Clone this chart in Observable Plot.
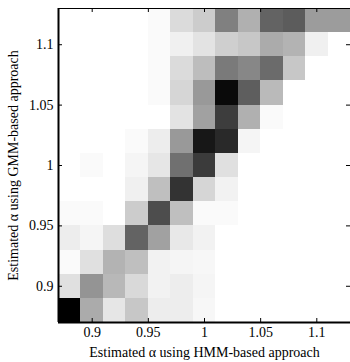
<!DOCTYPE html>
<html><head><meta charset="utf-8">
<script src="https://cdn.jsdelivr.net/npm/d3@7"></script>
<script src="https://cdn.jsdelivr.net/npm/@observablehq/plot@0.6"></script>
<style>body{margin:0;background:#fff} svg{display:block}</style>
</head><body><div id="chart"></div>
<script>
// Bin centers (2D histogram, bin width 0.02)
const binWidth = 0.02;
const xCenters = [0.88, 0.90, 0.92, 0.94, 0.96, 0.98, 1.00, 1.02, 1.04, 1.06, 1.08, 1.10, 1.12];
const yCenters = [1.12, 1.10, 1.08, 1.06, 1.04, 1.02, 1.00, 0.98, 0.96, 0.94, 0.92, 0.90, 0.88]; // top to bottom
// Relative frequency (0 = white, 100 = black), one row per yCenter
const intensity = [
  [  0,  0,  0,  0,  2, 14, 20, 50, 31, 61, 64, 39, 39],
  [  0,  0,  0,  0,  2,  6, 11, 19, 22, 33, 30,  6,  0],
  [  0,  0,  0,  0,  2, 14, 26, 52, 47, 58, 22,  0,  0],
  [  0,  0,  0,  0,  2, 16, 40, 96, 63, 27,  0,  0,  0],
  [  0,  0,  0,  0,  0, 11, 37, 76, 31,  2,  0,  0,  0],
  [  0,  0,  0,  2,  7, 40, 91, 84,  4,  0,  0,  0,  0],
  [  0,  2,  0,  4, 10, 56, 77, 12,  0,  0,  0,  0,  0],
  [  0,  0,  0,  6, 25, 80, 16,  5,  0,  0,  0,  0,  0],
  [  2,  2,  0, 20, 70, 25,  2,  2,  0,  0,  0,  0,  0],
  [  7,  4, 13, 61, 37,  9,  5,  0,  0,  0,  0,  0,  0],
  [  2, 12, 30, 25,  5,  4,  3,  0,  0,  0,  0,  0,  0],
  [ 12, 42, 28, 15,  5,  7,  4,  0,  0,  0,  0,  0,  0],
  [100, 33, 10, 22,  7,  7,  3,  0,  0,  0,  0,  0,  0]
];
const domainX = [0.87, 1.13];
const domainY = [0.87, 1.13];
const xTicks = [0.9, 0.95, 1, 1.05, 1.1];
const xTickLabels = ["0.9", "0.95", "1", "1.05", "1.1"];
const yTicks = [0.9, 0.95, 1, 1.05, 1.1];
const yTickLabels = ["0.9", "0.95", "1", "1.05", "1.1"];
const xLabel = "Estimated α using HMM-based approach";
const yLabel = "Estimated α using GMM-based approach";

const cells = [];
yCenters.forEach((y, i) => xCenters.forEach((x, j) => cells.push({x, y, v: intensity[i][j]})));

const chart = Plot.plot({
  width: 350, height: 362,
  marginLeft: 58, marginRight: 0, marginTop: 8, marginBottom: 40,
  style: {fontFamily: "'Liberation Serif', 'Times New Roman', serif", fontSize: "14px", background: "white", color: "black"},
  x: {domain: domainX},
  y: {domain: domainY},
  color: {type: "linear", domain: [0, 100], range: ["#ffffff", "#000000"], interpolate: "rgb"},
  marks: [
    Plot.rect(cells, {
      x1: d => d.x - binWidth / 2, x2: d => d.x + binWidth / 2,
      y1: d => d.y - binWidth / 2, y2: d => d.y + binWidth / 2,
      fill: "v", shapeRendering: "crispEdges"
    }),
    Plot.ruleX([domainX[0]], {stroke: "black", strokeWidth: 2}),
    Plot.ruleY([domainY[0]], {stroke: "black", strokeWidth: 2}),
    Plot.ruleY([domainY[1]], {stroke: "black", strokeWidth: 1}),
    Plot.tickX(xTicks, {x: d => d, insetTop: 310, stroke: "black"}),
    Plot.tickX(xTicks, {x: d => d, insetBottom: 310, stroke: "black"}),
    Plot.tickY(yTicks, {y: d => d, insetRight: 288, stroke: "black"}),
    Plot.tickY(yTicks, {y: d => d, insetLeft: 288, stroke: "black"}),
    Plot.axisX({ticks: xTicks, tickSize: 0, tickPadding: 5, label: null,
      tickFormat: d => xTickLabels[xTicks.indexOf(d)]}),
    Plot.axisY({ticks: yTicks, tickSize: 0, tickPadding: 5, label: null,
      tickFormat: d => yTickLabels[yTicks.indexOf(d)]}),
    Plot.text([xLabel], {text: d => d, frameAnchor: "bottom", dy: 30, lineAnchor: "middle", textAnchor: "middle", fill: "black"}),
    Plot.text([yLabel], {text: d => d, frameAnchor: "left", dx: -45, rotate: -90, textAnchor: "middle", lineAnchor: "middle", fill: "black"})
  ]
});
document.getElementById("chart").appendChild(chart);
</script>
</body></html>
